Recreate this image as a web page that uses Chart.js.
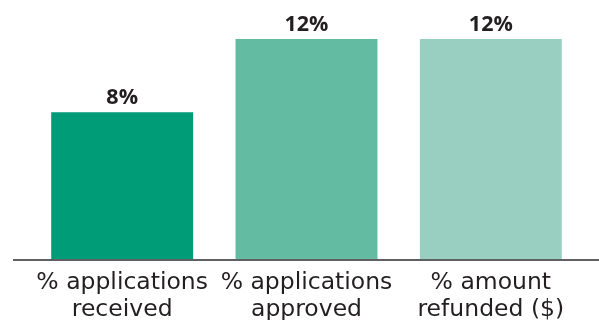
<!DOCTYPE html>
<html>
<head>
<meta charset="utf-8">
<script src="https://cdn.jsdelivr.net/npm/chart.js@4"></script>
<style>
html,body{margin:0;padding:0;background:#fff;}
#wrap{width:599px;height:320px;position:relative;}
</style>
</head>
<body>
<div id="wrap"><canvas id="c" width="599" height="320"></canvas></div>
<script>
const categories = [["% applications","received"],["% applications","approved"],["% amount","refunded ($)"]];
const values = [8, 12, 12];
const valueLabels = ["8%", "12%", "12%"];
const barColors = ["#009b77", "#63bba2", "#99cfc1"];

const valueLabelPlugin = {
  id: 'valueLabels',
  afterDatasetsDraw(chart) {
    const ctx = chart.ctx;
    const meta = chart.getDatasetMeta(0);
    ctx.save();
    ctx.font = "bold 21.5px 'Open Sans'";
    ctx.fillStyle = "#231f20";
    ctx.textAlign = "center";
    ctx.textBaseline = "alphabetic";
    meta.data.forEach((bar, i) => {
      ctx.fillText(valueLabels[i], bar.x, bar.y - 8);
    });
    ctx.restore();
  }
};
const baselinePlugin = {
  id: 'baseline',
  afterDatasetsDraw(chart) {
    const ctx = chart.ctx;
    const y = chart.scales.y.getPixelForValue(0);
    ctx.save();
    ctx.strokeStyle = "#5f6062";
    ctx.lineWidth = 2;
    ctx.beginPath();
    ctx.moveTo(13, y + 1);
    ctx.lineTo(chart.width, y + 1);
    ctx.stroke();
    ctx.restore();
  }
};

new Chart(document.getElementById('c'), {
  type: 'bar',
  data: {
    labels: categories,
    datasets: [{
      data: values,
      backgroundColor: barColors,
      borderWidth: 0,
      categoryPercentage: 1,
      barPercentage: 0.77
    }]
  },
  options: {
    responsive: false,
    animation: false,
    devicePixelRatio: 1,
    layout: { padding: { left: 30, right: 16, top: 39, bottom: 0 } },
    plugins: { legend: { display: false }, tooltip: { enabled: false } },
    scales: {
      y: { display: false, min: 0, max: 12 },
      x: {
        grid: { display: false, drawTicks: false },
        border: { display: false },
        ticks: {
          color: "#231f20",
          font: { family: "'DejaVu Sans'", size: 23.5, lineHeight: 1.13 },
          padding: 11,
          maxRotation: 0,
          autoSkip: false
        },
        afterFit(axis) { axis.height = 61; }
      }
    }
  },
  plugins: [valueLabelPlugin, baselinePlugin]
});
</script>
</body>
</html>
